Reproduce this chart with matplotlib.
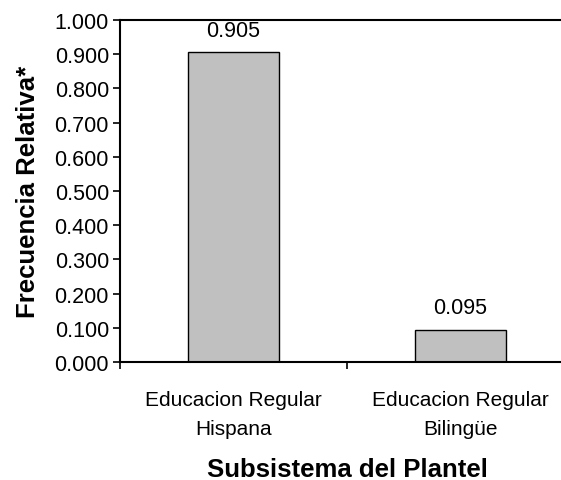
import matplotlib
matplotlib.use("Agg")
import matplotlib.pyplot as plt
import numpy as np

categorias = ["Educacion Regular\nHispana", "Educacion Regular\nBilingüe"]
frecuencias = [0.905, 0.095]
etiquetas = ["0.905", "0.095"]
yticks = [0.0, 0.1, 0.2, 0.3, 0.4, 0.5, 0.6, 0.7, 0.8, 0.9, 1.0]

plt.rcParams['font.family'] = ['Liberation Sans', 'DejaVu Sans']

fig = plt.figure(figsize=(5.61, 4.81), dpi=100)
ax = fig.add_axes([120 / 561, 118 / 481, 454 / 561, 342 / 481])

x = np.arange(len(categorias))
bars = ax.bar(x, frecuencias, width=0.4, color="#c0c0c0", edgecolor="black", linewidth=1.0)

for b, t in zip(bars, etiquetas):
    ax.annotate(t, (b.get_x() + b.get_width() / 2, b.get_height()),
                xytext=(0, 8.5), textcoords="offset points",
                ha="center", va="bottom", fontsize=15.5)

ax.set_xlim(-0.5, 1.5)
ax.set_ylim(0, 1.0)
ax.set_yticks(yticks)
ax.set_yticklabels(["%.3f" % v for v in yticks], fontsize=15.5)
ax.set_xticks(x)
ax.set_xticklabels(categorias, fontsize=15, linespacing=1.65)
ax.tick_params(axis="x", length=0, pad=20)
ax.set_xticks([-0.5, 0.5, 1.5], minor=True)
ax.tick_params(axis="x", which="minor", length=5, direction="out", width=1.2)
ax.tick_params(axis="y", length=5, direction="out", width=1.2, pad=3)

for s in ["left", "bottom", "top"]:
    ax.spines[s].set_linewidth(1.5)
ax.spines["right"].set_visible(False)

ax.set_ylabel("Frecuencia Relativa*", fontsize=18.5, fontweight="bold", labelpad=10)
ax.set_xlabel("Subsistema del Plantel", fontsize=18.5, fontweight="bold", labelpad=14)

fig.savefig("out.png", dpi=100)
